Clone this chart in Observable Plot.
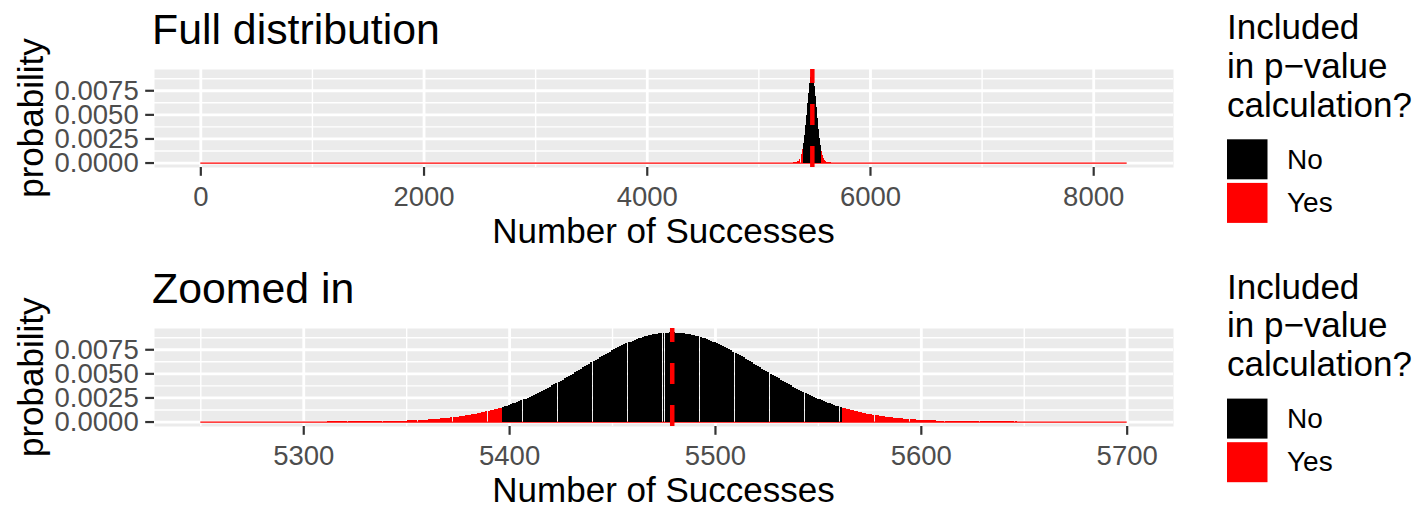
<!DOCTYPE html>
<html>
<head>
<meta charset="utf-8">
<script src="https://cdn.jsdelivr.net/npm/d3@7"></script>
<script src="https://cdn.jsdelivr.net/npm/@observablehq/plot@0.6"></script>
<style>
html, body { margin: 0; padding: 0; background: #fff; overflow: hidden; }
#wrap { position: relative; width: 1427px; height: 508px; }
#wrap > svg { position: absolute; left: 0; }
</style>
</head>
<body>
<div id="wrap"></div>
<script>
// ---------------- DATA ----------------
// number of successes shown in the zoomed panel (one bar per value)
const successes = d3.range(5250, 5701);
// probability of each number of successes (x 1e-6), x ascending
const probPerMillion = [
  // 5250-5278
  0,0,0,0,0,0,0,0,0,0, 0,0,0,0,0,0,0,0,0,0, 0,0,0,0,0,0,0,0,0,
  // 5279-5298
  0.2,0.22,0.25,0.28,0.31,0.34,0.38,0.42,0.46,0.51,0.57,0.63,0.7,0.77,0.85,0.94,1.04,1.15,1.27,1.4,
  // 5299-5328
  1.5,1.7,1.9,2.1,2.3,2.5,2.7,3,3.3,3.6,3.9,4.3,4.7,5.2,5.7,6.2,6.7,7.4,8,8.8,9.6,10.4,11.3,12.3,13.4,14.6,15.9,17.2,18.7,20,
  // 5329-5378
  22,24,26,28,30,33,35,38,41,44,48,52,56,60,64,69,75,80,86,92,99,106,114,122,130,139,149,159,170,181,193,206,220,234,249,265,282,300,318,338,359,381,403,427,452,479,506,535,566,597,
  // 5379-5428
  631,665,701,739,778,819,862,906,952,1000,1050,1102,1156,1211,1269,1328,1390,1454,1520,1588,1658,1730,1805,1881,1960,2041,2125,2210,2298,2388,2480,2574,2671,2770,2870,2973,3078,3184,3293,3404,3516,3630,3746,3864,3983,4103,4225,4348,4473,4598,
  // 5429-5478
  4724,4852,4980,5108,5238,5367,5497,5627,5757,5887,6016,6145,6273,6401,6528,6653,6778,6901,7022,7142,7260,7376,7490,7601,7710,7817,7920,8021,8118,8212,8304,8391,8475,8555,8631,8703,8771,8835,8894,8949,9000,9046,9088,9124,9156,9183,9205,9223,9235,9243,
  // 5479
  9245,
  // 5480-5529
  9243,9235,9223,9205,9183,9156,9124,9088,9046,9000,8949,8894,8835,8771,8703,8631,8555,8475,8391,8304,8212,8118,8021,7920,7817,7710,7601,7490,7376,7260,7142,7022,6901,6778,6653,6528,6401,6273,6145,6016,5887,5757,5627,5497,5367,5238,5108,4980,4852,4724,
  // 5530-5579
  4598,4473,4348,4225,4103,3983,3864,3746,3630,3516,3404,3293,3184,3078,2973,2870,2770,2671,2574,2480,2388,2298,2210,2125,2041,1960,1881,1805,1730,1658,1588,1520,1454,1390,1328,1269,1211,1156,1102,1050,1000,952,906,862,819,778,739,701,665,631,
  // 5580-5629
  597,566,535,506,479,452,427,403,381,359,338,318,300,282,265,249,234,220,206,193,181,170,159,149,139,130,122,114,106,99,92,86,80,75,69,64,60,56,52,48,44,41,38,35,33,30,28,26,24,22,
  // 5630-5659
  20,18.7,17.2,15.9,14.6,13.4,12.3,11.3,10.4,9.6,8.8,8,7.4,6.7,6.2,5.7,5.2,4.7,4.3,3.9,3.6,3.3,3,2.7,2.5,2.3,2.1,1.9,1.7,1.5,
  // 5660-5679
  1.4,1.27,1.15,1.04,0.94,0.85,0.77,0.7,0.63,0.57,0.51,0.46,0.42,0.38,0.34,0.31,0.28,0.25,0.22,0.2,
  // 5680-5700
  0,0,0,0,0,0,0,0,0,0, 0,0,0,0,0,0,0,0,0,0, 0
];
const trialRange = [0, 8300];            // full range of possible successes
const expectedSuccesses = 5479;          // dashed line
const lowerCutoff = 5396;                // included in p-value if <= this
const upperCutoff = 5562;                // ... or >= this
const inclusionLevels = ["No", "Yes"];
const fullTicks = [0, 2000, 4000, 6000, 8000];
const fullMinor = [1000, 3000, 5000, 7000];
const zoomTicks = [5300, 5400, 5500, 5600, 5700];
const zoomMinor = [5250, 5350, 5450, 5550, 5650];
const probTicks = [0, 0.0025, 0.005, 0.0075];
const probMinor = [0.00125, 0.00375, 0.00625, 0.00875];
const panelTitles = ["Full distribution", "Zoomed in"];
const xTitle = "Number of Successes";
const yTitle = "probability";
const legendTitle = ["Included", "in p\u2212value", "calculation?"];

// ---------------- BUILD ----------------
if (probPerMillion.length !== successes.length) console.error("length mismatch", probPerMillion.length);
const rows = successes.map((x, i) => ({
  x, p: probPerMillion[i] / 1e6,
  included: (x <= lowerCutoff || x >= upperCutoff) ? inclusionLevels[1] : inclusionLevels[0]
}));
const FONT = '"Liberation Sans", Arial, Helvetica, sans-serif';
const yMax = d3.max(rows, d => d.p);
const yDomain = [-0.05 * yMax, 1.05 * yMax];
const expand = ([a, b]) => { const m = (b - a) * 0.05; return [a - m, b + m]; };
const HALF = 0.485;

function panel(xExtent, xTicks, xMinor) {
  return Plot.plot({
    width: 1180, height: 215,
    marginLeft: 154, marginRight: 7, marginTop: 69, marginBottom: 48,
    x: { domain: expand(xExtent) },
    y: { domain: yDomain },
    color: { domain: inclusionLevels, range: ["black", "red"] },
    style: { fontFamily: FONT, background: "transparent", overflow: "visible" },
    marks: [
      Plot.frame({ fill: "#EBEBEB", stroke: "none" }),
      Plot.gridX(xMinor, { stroke: "#fff", strokeOpacity: 1, strokeWidth: 1.4 }),
      Plot.gridY(probMinor, { stroke: "#fff", strokeOpacity: 1, strokeWidth: 1.4 }),
      Plot.gridX(xTicks, { stroke: "#fff", strokeOpacity: 1, strokeWidth: 2.8 }),
      Plot.gridY(probTicks, { stroke: "#fff", strokeOpacity: 1, strokeWidth: 2.8 }),
      Plot.ruleY([0], { x1: xExtent[0], x2: xExtent[1], stroke: "red", strokeWidth: 1.3 }),
      Plot.rectY(rows, { x1: d => d.x - HALF, x2: d => d.x + HALF, y: "p", fill: "included", shapeRendering: "crispEdges" }),
      Plot.ruleX([expectedSuccesses], { y1: yDomain[0], y2: yDomain[1], stroke: "red", strokeWidth: 4.5, strokeDasharray: "21,21" }),
      Plot.axisX(xTicks, { tickSize: 8.8, tickPadding: 10, fontSize: 27.5, stroke: "#333333", fill: "#4D4D4D", strokeWidth: 2.2, tickFormat: d => String(d), label: null }),
      Plot.axisY(probTicks, { tickSize: 8.8, tickPadding: 7, fontSize: 27.5, stroke: "#333333", fill: "#4D4D4D", strokeWidth: 2.2, tickFormat: d3.format(".4f"), label: null })
    ]
  });
}

const wrap = document.getElementById("wrap");
const p1 = panel(trialRange, fullTicks, fullMinor);
p1.style.top = "0px";
wrap.appendChild(p1);
const p2 = panel(d3.extent(successes), zoomTicks, zoomMinor);
p2.style.top = "259.3px";
wrap.appendChild(p2);

// overlay texts and legends
const ov = d3.create("svg").attr("width", 1427).attr("height", 508)
  .style("top", "0px").style("font-family", FONT);
[0, 259.3].forEach((off, k) => {
  const g = ov.append("g").attr("transform", `translate(0,${off})`);
  g.append("text").attr("x", 152).attr("y", 44).attr("font-size", 42.8).text(panelTitles[k]);
  g.append("text").attr("x", 663.5).attr("y", 243).attr("font-size", 35).attr("text-anchor", "middle").text(xTitle);
  g.append("text").attr("transform", "translate(43,118) rotate(-90)").attr("font-size", 35).attr("text-anchor", "middle").text(yTitle);
  legendTitle.forEach((t, i) => {
    g.append("text").attr("x", 1227).attr("y", 39.3 + i * 38.7).attr("font-size", 35).text(t);
  });
  inclusionLevels.forEach((lab, i) => {
    g.append("rect").attr("x", 1227).attr("y", 139.3 + i * 43.6).attr("width", 40.5).attr("height", 40)
      .attr("fill", ["black", "red"][i]);
    g.append("text").attr("x", 1287).attr("y", 168.5 + i * 43.6).attr("font-size", 28).text(lab);
  });
});
wrap.appendChild(ov.node());
</script>
</body>
</html>
